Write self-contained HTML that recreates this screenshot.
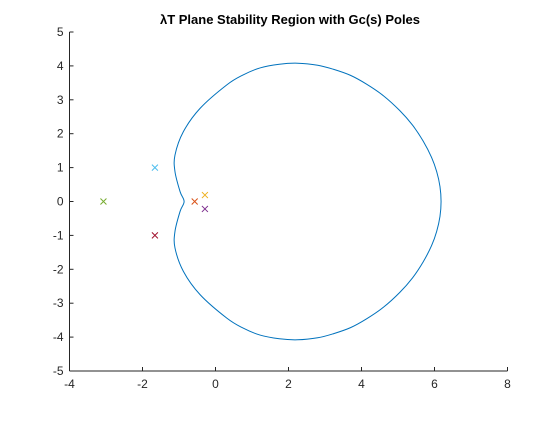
<!DOCTYPE html>
<html><head><meta charset="utf-8"><style>
body{margin:0;background:#fff;font-family:"Liberation Sans",Arial,sans-serif}
svg text{font-family:"Liberation Sans",Arial,sans-serif}
</style></head><body>
<svg width="560" height="420" xmlns="http://www.w3.org/2000/svg">
<rect width="560" height="420" fill="#fff"/>
<text x="290" y="24" text-anchor="middle" font-size="13" font-weight="bold" fill="#000">λT Plane Stability Region with Gc(s) Poles</text>
<g id="axes"></g>
<g id="plot"></g>
</svg>
<script>
const xTicks=[-4,-2,0,2,4,6,8];
const yTicks=[-5,-4,-3,-2,-1,0,1,2,3,4,5];
const curveX=[6.18,6.15,6.06,5.92,5.69,5.4,5.05,4.6,4.14,3.7,3.23,2.8,2.25,1.75,1.22,0.75,0.31,-0.42,-0.88,-1.11,-1.11,-0.97,-0.86];
const curveY=[0,0.44,0.88,1.3,1.78,2.25,2.68,3.12,3.46,3.72,3.9,4.02,4.08,4.05,3.94,3.73,3.44,2.75,2.06,1.37,0.88,0.29,0];
const poleX=[-0.57,-0.29,-0.29,-3.07,-1.66,-1.66];
const poleY=[0,0.19,-0.22,0,1,-1];
const poleColors=["#D95319","#EDB120","#7E2F8E","#77AC30","#4DBEEE","#A2142F"];
const L=69.5,R=507.5,T=32,B=371;
const sx=v=>L+(v+4)/12*(R-L);
const sy=v=>B-(v+5)/10*(B-T);
const NS="http://www.w3.org/2000/svg";
const ax=document.getElementById('axes'),pl=document.getElementById('plot');
function mk(t,a,p){const e=document.createElementNS(NS,t);for(const k in a)e.setAttribute(k,a[k]);p.appendChild(e);return e;}
let a=mk('line',{x1:L,y1:B,x2:R,y2:B,stroke:'#262626','stroke-width':1},ax);


a=mk('line',{x1:L,y1:T,x2:L,y2:B,stroke:'#262626','stroke-width':1},ax);


xTicks.forEach(v=>{const x=sx(v);
mk('line',{x1:x,y1:B,x2:x,y2:B-4,stroke:'#262626'},ax);
const t=mk('text',{x:x,y:B+17,'text-anchor':'middle','font-size':12,fill:'#262626'},ax);t.textContent=v;

});
yTicks.forEach(v=>{const y=sy(v);
mk('line',{x1:L,y1:y,x2:L+4,y2:y,stroke:'#262626'},ax);
const t=mk('text',{x:L-6,y:y+4,'text-anchor':'end','font-size':12,fill:'#262626'},ax);t.textContent=v;

});
const px=[],py=[];
for(let i=0;i<curveX.length;i++){px.push(curveX[i]);py.push(curveY[i]);}
for(let i=curveX.length-2;i>=1;i--){px.push(curveX[i]);py.push(-curveY[i]);}
const P=px.map((v,i)=>[sx(v),sy(py[i])]);
const n=P.length;
let d='M'+P[0][0]+','+P[0][1];
for(let i=0;i<n;i++){
const p0=P[(i-1+n)%n],p1=P[i],p2=P[(i+1)%n],p3=P[(i+2)%n];
const c1=[p1[0]+(p2[0]-p0[0])/6,p1[1]+(p2[1]-p0[1])/6];
const c2=[p2[0]-(p3[0]-p1[0])/6,p2[1]-(p3[1]-p1[1])/6];
d+=' C'+c1+' '+c2+' '+p2;}
const c=mk('path',{d:d,fill:'none',stroke:'#0072BD','stroke-width':1},pl);


poleX.forEach((v,i)=>{const x=sx(v),y=sy(poleY[i]);
const g=mk('path',{d:`M${x-3},${y-3}L${x+3},${y+3}M${x-3},${y+3}L${x+3},${y-3}`,stroke:poleColors[i],'stroke-width':1,fill:'none'},pl);

});
</script>
</body></html>
